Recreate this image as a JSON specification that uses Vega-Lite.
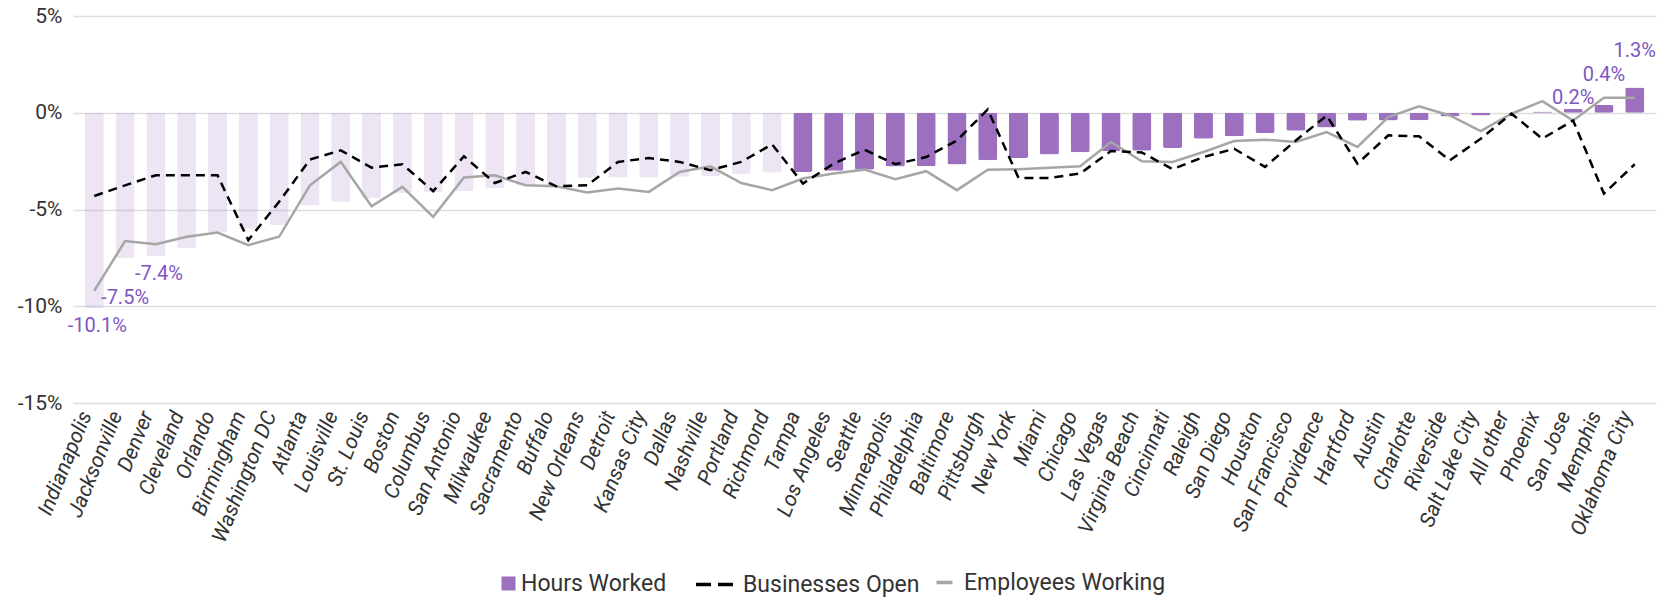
{
  "$schema": "https://vega.github.io/schema/vega-lite/v6.json",
  "width": 1583,
  "height": 387,
  "autosize": {"type": "none"},
  "padding": {"left": 73, "top": 16, "right": 6, "bottom": 194},
  "config": {
    "font": "Roboto",
    "view": {"stroke": null},
    "locale": {"number": {"decimal": ".", "thousands": ",", "grouping": [3], "currency": ["$", ""], "minus": "-"}}
  },
  "resolve": {"scale": {"color": "independent"}, "legend": {"color": "independent"}},
  "data": {
    "values": [
      {"city": "Indianapolis", "hours": -0.101, "businesses": -0.043, "employees": -0.092},
      {"city": "Jacksonville", "hours": -0.075, "businesses": -0.0375, "employees": -0.0663},
      {"city": "Denver", "hours": -0.074, "businesses": -0.0323, "employees": -0.0679},
      {"city": "Cleveland", "hours": -0.070, "businesses": -0.0323, "employees": -0.0641},
      {"city": "Orlando", "hours": -0.062, "businesses": -0.0323, "employees": -0.0619},
      {"city": "Birmingham", "hours": -0.060, "businesses": -0.0658, "employees": -0.0684},
      {"city": "Washington DC", "hours": -0.058, "businesses": -0.046, "employees": -0.0641},
      {"city": "Atlanta", "hours": -0.048, "businesses": -0.0242, "employees": -0.0375},
      {"city": "Louisville", "hours": -0.046, "businesses": -0.0194, "employees": -0.0254},
      {"city": "St. Louis", "hours": -0.0443, "businesses": -0.0284, "employees": -0.0483},
      {"city": "Boston", "hours": -0.0415, "businesses": -0.0266, "employees": -0.0383},
      {"city": "Columbus", "hours": -0.041, "businesses": -0.0405, "employees": -0.0538},
      {"city": "San Antonio", "hours": -0.0405, "businesses": -0.0225, "employees": -0.0335},
      {"city": "Milwaukee", "hours": -0.039, "businesses": -0.0363, "employees": -0.0323},
      {"city": "Sacramento", "hours": -0.0376, "businesses": -0.0306, "employees": -0.0375},
      {"city": "Buffalo", "hours": -0.0375, "businesses": -0.038, "employees": -0.038},
      {"city": "New Orleans", "hours": -0.0336, "businesses": -0.0375, "employees": -0.0412},
      {"city": "Detroit", "hours": -0.0335, "businesses": -0.0254, "employees": -0.0392},
      {"city": "Kansas City", "hours": -0.0334, "businesses": -0.0234, "employees": -0.0409},
      {"city": "Dallas", "hours": -0.0331, "businesses": -0.0254, "employees": -0.0306},
      {"city": "Nashville", "hours": -0.0327, "businesses": -0.0297, "employees": -0.0277},
      {"city": "Portland", "hours": -0.0318, "businesses": -0.0254, "employees": -0.0363},
      {"city": "Richmond", "hours": -0.031, "businesses": -0.0163, "employees": -0.040},
      {"city": "Tampa", "hours": -0.0306, "businesses": -0.0366, "employees": -0.034},
      {"city": "Los Angeles", "hours": -0.030, "businesses": -0.0263, "employees": -0.0314},
      {"city": "Seattle", "hours": -0.0294, "businesses": -0.0191, "employees": -0.0294},
      {"city": "Minneapolis", "hours": -0.0278, "businesses": -0.0266, "employees": -0.0344},
      {"city": "Philadelphia", "hours": -0.0276, "businesses": -0.0229, "employees": -0.0302},
      {"city": "Baltimore", "hours": -0.0268, "businesses": -0.0143, "employees": -0.040},
      {"city": "Pittsburgh", "hours": -0.0246, "businesses": 0.0017, "employees": -0.0294},
      {"city": "New York", "hours": -0.0234, "businesses": -0.0337, "employees": -0.0292},
      {"city": "Miami", "hours": -0.0216, "businesses": -0.0337, "employees": -0.0284},
      {"city": "Chicago", "hours": -0.0204, "businesses": -0.0314, "employees": -0.0277},
      {"city": "Las Vegas", "hours": -0.0198, "businesses": -0.0198, "employees": -0.0151},
      {"city": "Virginia Beach", "hours": -0.0196, "businesses": -0.0205, "employees": -0.0251},
      {"city": "Cincinnati", "hours": -0.0182, "businesses": -0.0292, "employees": -0.0254},
      {"city": "Raleigh", "hours": -0.0134, "businesses": -0.0229, "employees": -0.0203},
      {"city": "San Diego", "hours": -0.0122, "businesses": -0.0186, "employees": -0.0146},
      {"city": "Houston", "hours": -0.0105, "businesses": -0.028, "employees": -0.0139},
      {"city": "San Francisco", "hours": -0.0093, "businesses": -0.0143, "employees": -0.0151},
      {"city": "Providence", "hours": -0.0076, "businesses": -0.0015, "employees": -0.010},
      {"city": "Hartford", "hours": -0.0041, "businesses": -0.0263, "employees": -0.0177},
      {"city": "Austin", "hours": -0.004, "businesses": -0.0117, "employees": -0.0022},
      {"city": "Charlotte", "hours": -0.0039, "businesses": -0.0122, "employees": 0.0033},
      {"city": "Riverside", "hours": -0.0019, "businesses": -0.0246, "employees": -0.0014},
      {"city": "Salt Lake City", "hours": -0.0014, "businesses": -0.0134, "employees": -0.0095},
      {"city": "All other", "hours": 0.0, "businesses": -0.0005, "employees": -0.0005},
      {"city": "Phoenix", "hours": 0.0007, "businesses": -0.0134, "employees": 0.006},
      {"city": "San Jose", "hours": 0.002, "businesses": -0.004, "employees": -0.004},
      {"city": "Memphis", "hours": 0.004, "businesses": -0.0418, "employees": 0.0077},
      {"city": "Oklahoma City", "hours": 0.013, "businesses": -0.0266, "employees": 0.0077}
    ]
  },
  "encoding": {
    "x": {
      "field": "city",
      "type": "nominal",
      "sort": null,
      "scale": {"paddingInner": 0.38, "paddingOuter": 0.38},
      "axis": {
        "title": null,
        "labelAngle": -68,
        "labelFontSize": 21,
        "labelFontStyle": "italic",
        "labelColor": "#333333",
        "domain": false,
        "ticks": false,
        "grid": false,
        "labelPadding": 9,
        "labelOffset": -8
      }
    }
  },
  "layer": [
    {
      "mark": {"type": "bar", "cornerRadius": 2},
      "encoding": {
        "y": {
          "field": "hours",
          "type": "quantitative",
          "scale": {"domain": [-0.15, 0.05], "nice": false},
          "axis": {
            "title": null,
            "values": [-0.15, -0.1, -0.05, 0, 0.05],
            "format": ".0%",
            "labelFontSize": 21,
            "labelColor": "#333333",
            "domain": false,
            "ticks": false,
            "labelPadding": 11,
            "gridColor": "#DDDDDD",
            "gridWidth": 1.5
          }
        },
        "color": {
          "datum": "Hours Worked",
          "scale": {"domain": ["Hours Worked"], "range": ["#9C6FBF"]},
          "legend": {
            "title": null,
            "orient": "none",
            "legendX": 424,
            "legendY": 556,
            "direction": "horizontal",
            "labelFontSize": 23,
            "labelColor": "#333333",
            "labelLimit": 0,
            "labelOffset": 1,
            "symbolType": "square",
            "symbolSize": 196,
            "symbolOpacity": 1
          }
        },
        "opacity": {
          "condition": {"test": "datum.hours > -0.0308", "value": 1},
          "value": 0.18
        }
      }
    },
    {
      "mark": {"type": "line", "strokeWidth": 2.5},
      "encoding": {
        "y": {"field": "employees", "type": "quantitative"},
        "color": {
          "datum": "Employees Working",
          "scale": {"domain": ["Employees Working"], "range": ["#A6A6A6"]},
          "legend": {
            "title": null,
            "orient": "none",
            "legendX": 860,
            "legendY": 555,
            "direction": "horizontal",
            "labelFontSize": 23,
            "labelColor": "#333333",
            "labelLimit": 0,
            "labelOffset": 8,
            "symbolType": "stroke",
            "symbolSize": 256,
            "symbolStrokeWidth": 3.5
          }
        }
      }
    },
    {
      "mark": {"type": "line", "strokeWidth": 2.5, "strokeDash": [9, 6]},
      "encoding": {
        "y": {"field": "businesses", "type": "quantitative"},
        "color": {
          "datum": "Businesses Open",
          "scale": {"domain": ["Businesses Open"], "range": ["#000000"]},
          "legend": {
            "title": null,
            "orient": "none",
            "legendX": 621,
            "legendY": 548,
            "direction": "horizontal",
            "labelFontSize": 23,
            "labelColor": "#333333",
            "labelLimit": 0,
            "labelOffset": 8,
            "symbolType": "stroke",
            "symbolSize": 1369,
            "symbolDash": [15, 7],
            "symbolStrokeWidth": 3.5
          }
        }
      }
    },
    {
      "transform": [{"filter": {"field": "city", "oneOf": ["Indianapolis", "Denver"]}}],
      "mark": {"type": "text", "dy": 18, "dx": 3, "fontSize": 20, "color": "#7E57C2"},
      "encoding": {
        "y": {"field": "hours", "type": "quantitative"},
        "text": {"field": "hours", "type": "quantitative", "format": ".1%"}
      }
    },
    {
      "transform": [{"filter": {"field": "city", "oneOf": ["Jacksonville"]}}],
      "mark": {"type": "text", "dy": 40, "fontSize": 20, "color": "#7E57C2"},
      "encoding": {
        "y": {"field": "hours", "type": "quantitative"},
        "text": {"field": "hours", "type": "quantitative", "format": ".1%"}
      }
    },
    {
      "transform": [{"filter": {"field": "city", "oneOf": ["San Jose"]}}],
      "mark": {"type": "text", "dy": -11, "fontSize": 20, "color": "#7E57C2"},
      "encoding": {
        "y": {"field": "hours", "type": "quantitative"},
        "text": {"field": "hours", "type": "quantitative", "format": ".1%"}
      }
    },
    {
      "transform": [{"filter": {"field": "city", "oneOf": ["Memphis"]}}],
      "mark": {"type": "text", "dy": -30, "fontSize": 20, "color": "#7E57C2"},
      "encoding": {
        "y": {"field": "hours", "type": "quantitative"},
        "text": {"field": "hours", "type": "quantitative", "format": ".1%"}
      }
    },
    {
      "transform": [{"filter": {"field": "city", "oneOf": ["Oklahoma City"]}}],
      "mark": {"type": "text", "dy": -37, "fontSize": 20, "color": "#7E57C2"},
      "encoding": {
        "y": {"field": "hours", "type": "quantitative"},
        "text": {"field": "hours", "type": "quantitative", "format": ".1%"}
      }
    }
  ]
}
